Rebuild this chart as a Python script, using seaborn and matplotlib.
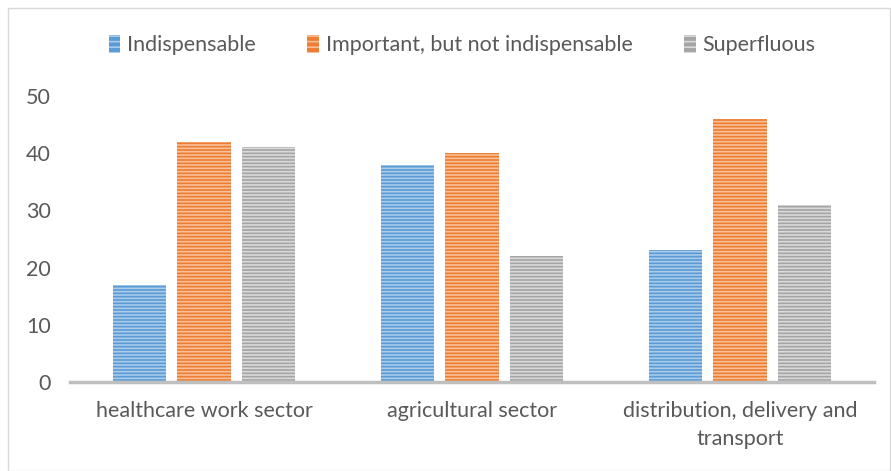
import matplotlib
matplotlib.use("Agg")
import matplotlib.pyplot as plt
import seaborn as sns
import pandas as pd
from matplotlib.patches import Rectangle, Patch

categories = ["healthcare work sector", "agricultural sector", "distribution, delivery and\ntransport"]
series = ["Indispensable", "Important, but not indispensable", "Superfluous"]
indispensable = [17, 38, 23]
important = [42, 40, 46]
superfluous = [41, 22, 31]
yticks = [0, 10, 20, 30, 40, 50]

colors = ["#5B9BD5", "#ED7D31", "#A5A5A5"]
light = ["#A9CCEC", "#F7BE98", "#D9D9D9"]

rows = []
for s, vals in zip(series, [indispensable, important, superfluous]):
    for c, v in zip(categories, vals):
        rows.append({"category": c, "series": s, "value": v})
df = pd.DataFrame(rows)

sns.set_theme(style="white")
plt.rcParams['font.family'] = ['Lato', 'DejaVu Sans']
plt.rcParams['hatch.linewidth'] = 1.2

fig = plt.figure(figsize=(8.91, 4.71), dpi=100)
ax = fig.add_axes([70/891, 1-382/471, 804/891, (382-96)/471])

sns.barplot(data=df, x="category", y="value", hue="series", order=categories,
            hue_order=series, palette=colors, width=0.72, gap=0.17,
            ax=ax, legend=False, saturation=1)

# stripes
for i, s in enumerate(series):
    cont = ax.containers[i]
    for bar in cont:
        bar.set_hatch("-----")
        bar.set_edgecolor(light[i])
        bar.set_linewidth(0)

ax.set_ylim(0, 50)
ax.set_xlim(-0.5, 2.5)
ax.set_yticks(yticks)
ax.set_xlabel("")
ax.set_ylabel("")
for sp in ["top", "right", "left"]:
    ax.spines[sp].set_visible(False)
ax.spines["bottom"].set_color("#BFBFBF")
ax.spines["bottom"].set_linewidth(2.5)
ax.tick_params(axis="both", length=0, labelsize=15.5, colors="#595959")
ax.tick_params(axis="y", pad=14)
ax.tick_params(axis="x", pad=14)
for lbl in ax.get_xticklabels():
    lbl.set_linespacing(1.45)
ax.yaxis.grid(False)

handles = [Patch(facecolor=colors[i], edgecolor=light[i], hatch="---", linewidth=0) for i in range(3)]
fig.legend(handles, series, loc="center", bbox_to_anchor=(462/891, 1-45/471), ncol=3,
           frameon=False, fontsize=15.5, handlelength=0.55, handleheight=0.9,
           handletextpad=0.3, columnspacing=2.4, labelcolor="#595959")

fig.patches.append(Rectangle((8/891, 0), 1-8/891 - 0.001, 1-8/471, transform=fig.transFigure,
                             fill=False, edgecolor="#D9D9D9", linewidth=1))

fig.savefig("out.png", dpi=100)
